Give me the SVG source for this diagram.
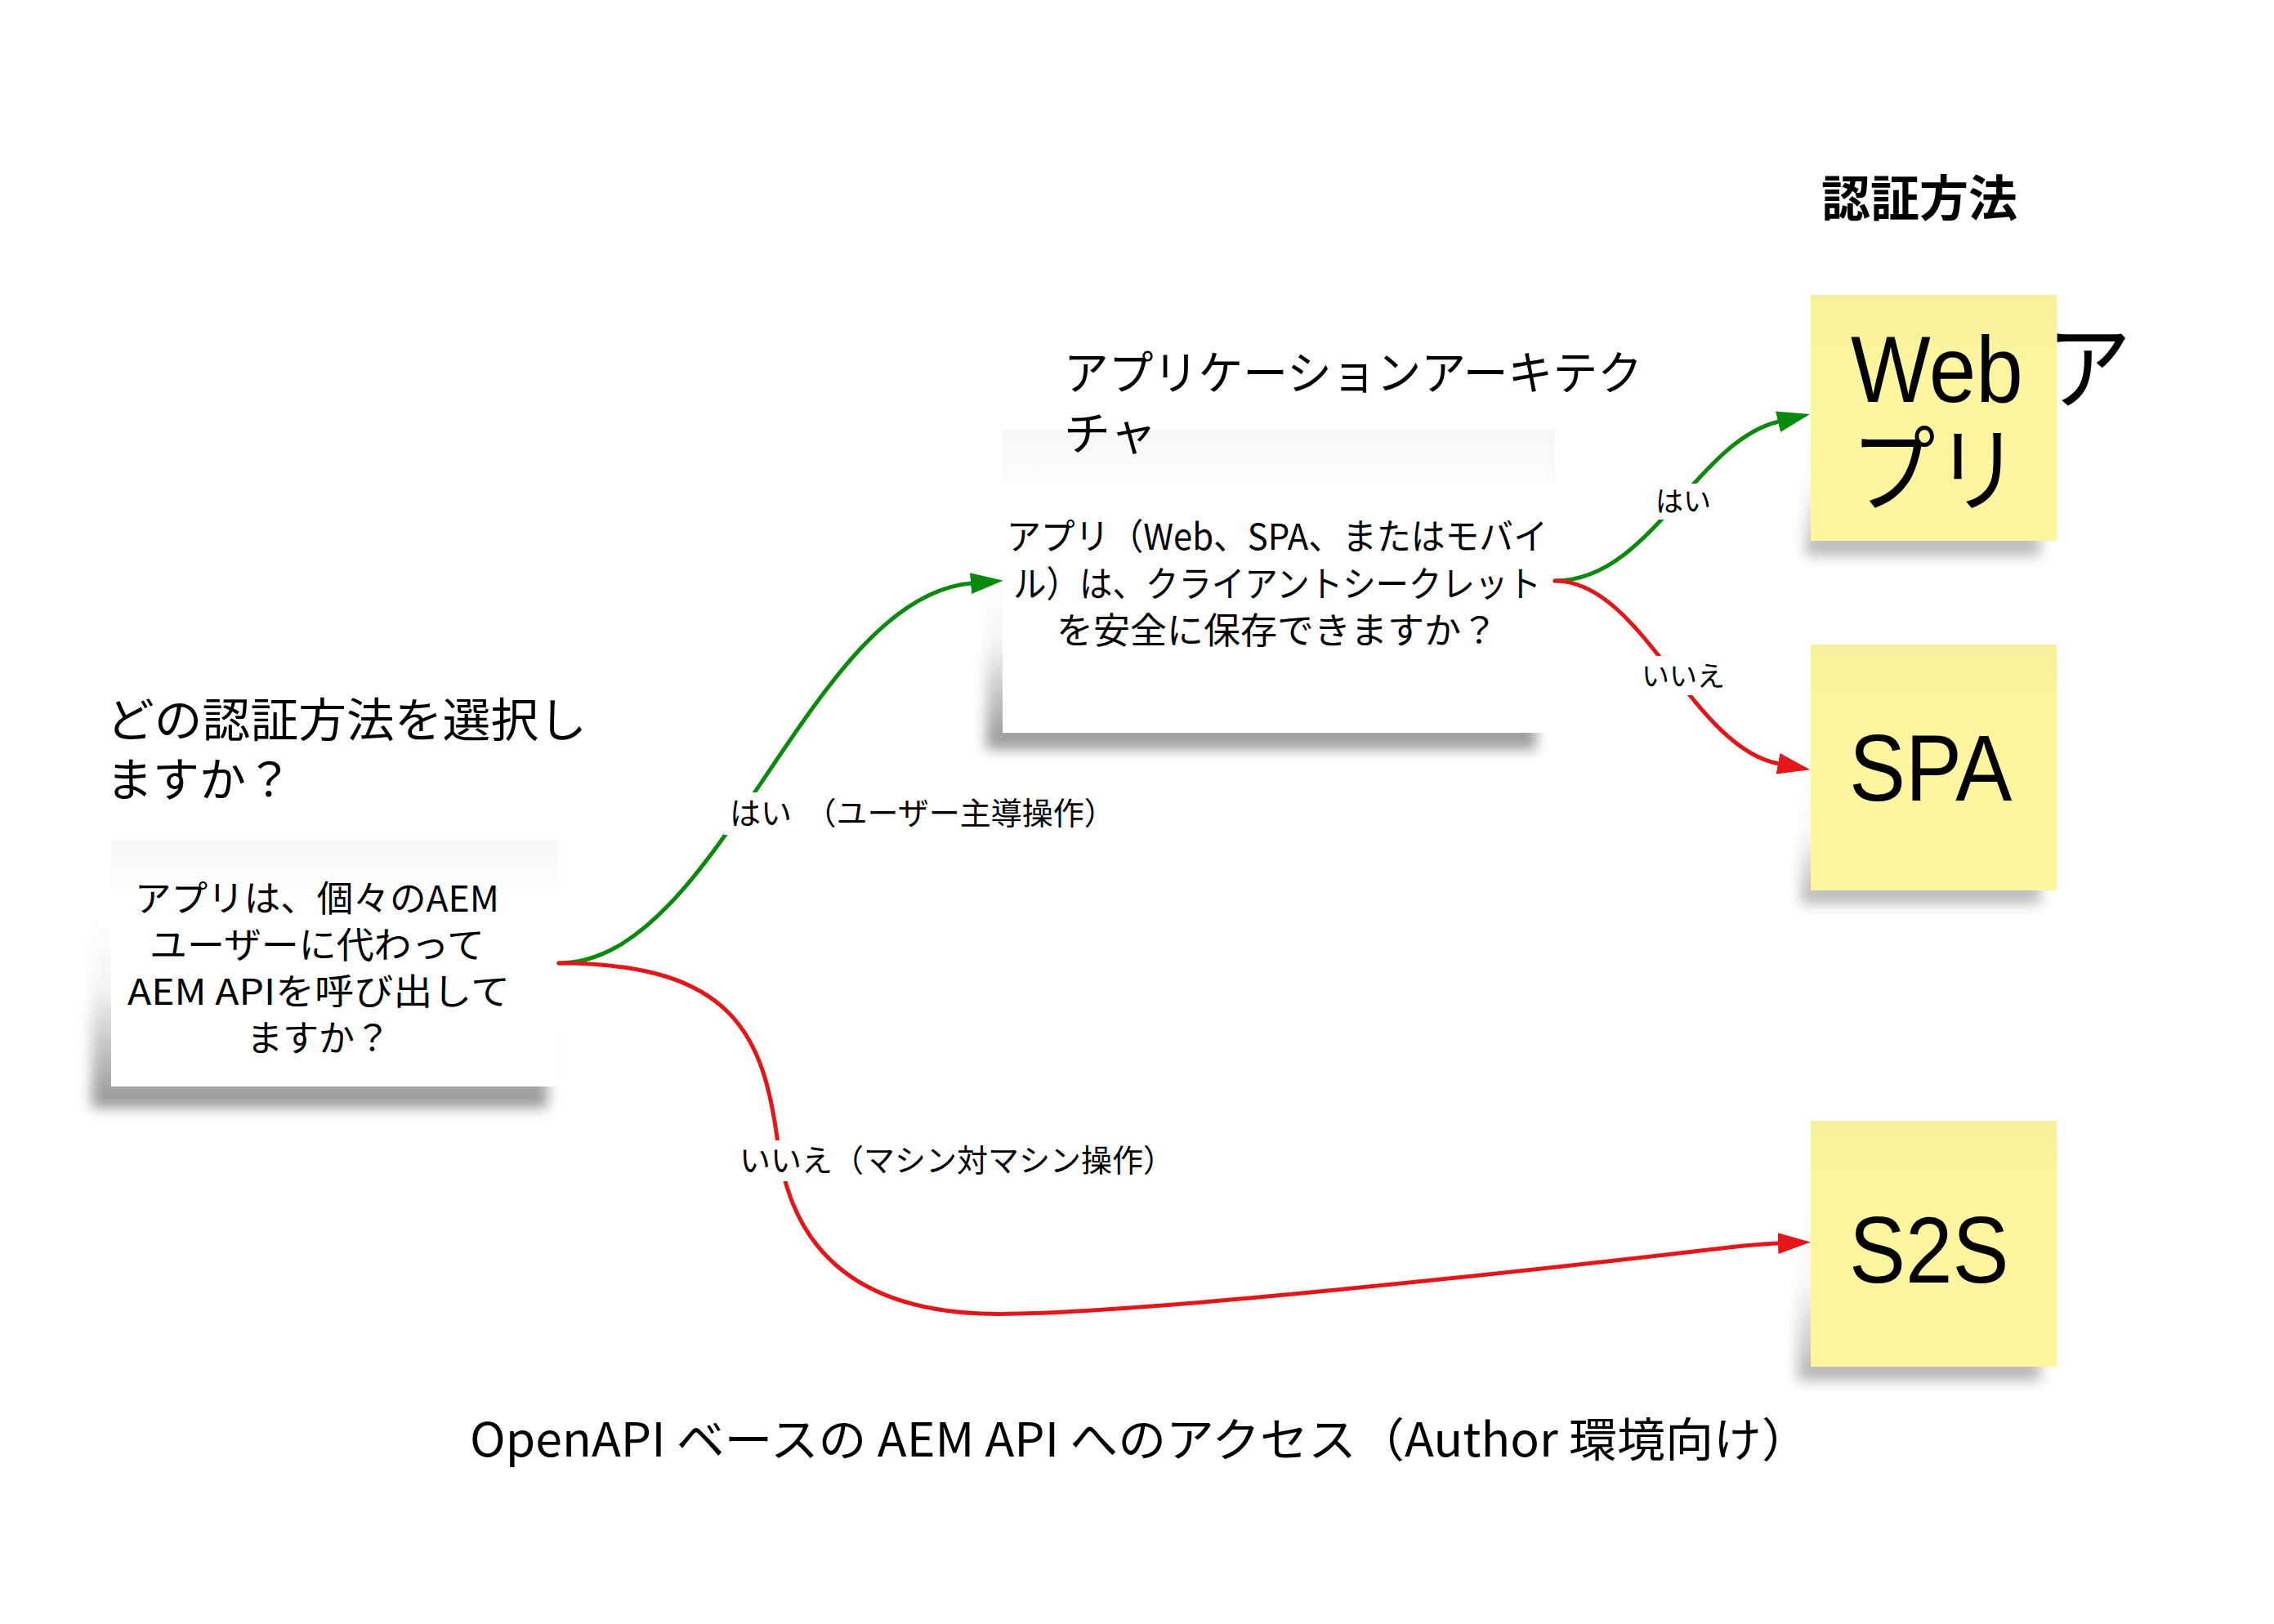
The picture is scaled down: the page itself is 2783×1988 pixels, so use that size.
<svg xmlns="http://www.w3.org/2000/svg" width="2783" height="1988" viewBox="0 0 2783 1988">
  <defs>
    <style>
      .jp { font-family: "Noto Sans CJK JP", sans-serif; fill: #000; }
      .head { font-size: 57px; }
      .q { font-size: 44px; }
      .lbl { font-size: 38px; }
      .note { font-family: "Liberation Sans", "Noto Sans CJK JP", sans-serif; font-size: 115px; fill: #000; }
      .wbox { fill: url(#whiteGrad); }
      .ybox { fill: url(#yellowGrad); }
      .shadow { fill: url(#shadowGrad); filter: url(#blur); }
      .yshadow { fill: url(#yShadowGrad); filter: url(#blur); }
      .yes { fill: none; stroke: #0a8a0c; stroke-width: 5; stroke-linecap: round; }
      .no { fill: none; stroke: #e51619; stroke-width: 5; stroke-linecap: round; }
      .bg { fill: #fff; }
    </style>
    <linearGradient id="whiteGrad" x1="0" y1="0" x2="0" y2="1">
      <stop offset="0" stop-color="#f7f7f7"/>
      <stop offset="0.16" stop-color="#fbfbfb"/>
      <stop offset="0.22" stop-color="#ffffff"/>
    </linearGradient>
    <linearGradient id="yellowGrad" x1="0" y1="0" x2="0" y2="1">
      <stop offset="0" stop-color="#f8ef9c"/>
      <stop offset="0.3" stop-color="#fef5a0"/>
      <stop offset="1" stop-color="#fef5a0"/>
    </linearGradient>
    <linearGradient id="shadowGrad" x1="0" y1="0" x2="0" y2="1">
      <stop offset="0" stop-color="#000" stop-opacity="0"/>
      <stop offset="0.4" stop-color="#000" stop-opacity="0.04"/>
      <stop offset="1" stop-color="#000" stop-opacity="0.42"/>
    </linearGradient>
    <linearGradient id="yShadowGrad" x1="0" y1="0" x2="0" y2="1">
      <stop offset="0" stop-color="#000" stop-opacity="0"/>
      <stop offset="0.5" stop-color="#000" stop-opacity="0.03"/>
      <stop offset="1" stop-color="#000" stop-opacity="0.3"/>
    </linearGradient>
    <filter id="blur" x="-20%" y="-20%" width="140%" height="140%">
      <feGaussianBlur stdDeviation="8"/>
    </filter>
    <marker id="arrGreen" markerUnits="userSpaceOnUse" markerWidth="40" markerHeight="26" viewBox="0 0 40 26" refX="1" refY="13" orient="auto">
      <path d="M0,0 L40,13 L0,26 z" fill="#0a8a0c"/>
    </marker>
    <marker id="arrRed" markerUnits="userSpaceOnUse" markerWidth="40" markerHeight="26" viewBox="0 0 40 26" refX="1" refY="13" orient="auto">
      <path d="M0,0 L40,13 L0,26 z" fill="#e51619"/>
    </marker>
  </defs>

  <rect width="2783" height="1988" fill="#fff"/>

  <!-- Decision 1 -->
  <g id="node-q1">
    <rect class="shadow" x="112" y="1110" width="558" height="246"/>
    <rect class="wbox" x="136" y="1029" width="547" height="301"/>
    <text class="jp q" text-anchor="middle" x="388" y="1116" textLength="446" lengthAdjust="spacingAndGlyphs">アプリは、個々のAEM</text>
    <text class="jp q" text-anchor="middle" x="388" y="1173" textLength="410" lengthAdjust="spacingAndGlyphs">ユーザーに代わって</text>
    <text class="jp q" text-anchor="middle" x="390" y="1230" textLength="468" lengthAdjust="spacingAndGlyphs">AEM APIを呼び出して</text>
    <text class="jp q" text-anchor="middle" x="390" y="1287">ますか？</text>
  </g>

  <!-- Decision 2 -->
  <g id="node-q2">
    <rect class="shadow" x="1207" y="700" width="673" height="217"/>
    <rect class="wbox" x="1227" y="526" width="676" height="371"/>
    <text class="jp q" text-anchor="middle" x="1563" y="673" textLength="662" lengthAdjust="spacingAndGlyphs">アプリ（Web、SPA、またはモバイ</text>
    <text class="jp q" text-anchor="middle" x="1563" y="731" textLength="646" lengthAdjust="spacingAndGlyphs">ル）は、クライアントシークレット</text>
    <text class="jp q" text-anchor="middle" x="1563" y="788" textLength="540" lengthAdjust="spacingAndGlyphs">を安全に保存できますか？</text>
  </g>

  <!-- Result notes -->
  <g id="node-webapp">
    <rect class="yshadow" x="2210" y="520" width="287" height="160"/>
    <rect class="ybox" x="2216" y="361" width="301" height="301"/>
    <text class="note" transform="translate(2265,492) scale(0.9,1)">Web ア</text>
    <text class="note" transform="translate(2265,617) scale(0.9,1)">プリ</text>
  </g>
  <g id="node-spa">
    <rect class="yshadow" x="2204" y="940" width="293" height="166"/>
    <rect class="ybox" x="2216" y="789" width="301" height="301"/>
    <text class="note" transform="translate(2263,980) scale(0.9,1)">SPA</text>
  </g>
  <g id="node-s2s">
    <rect class="yshadow" x="2200" y="1460" width="297" height="230"/>
    <rect class="ybox" x="2216" y="1372" width="301" height="301"/>
    <text class="note" transform="translate(2263,1570) scale(0.9,1)">S2S</text>
  </g>

  <!-- Headings (drawn above the boxes) -->
  <g id="heading-question">
    <text class="jp head" x="130" y="902" font-size="58" textLength="588" lengthAdjust="spacingAndGlyphs">どの認証方法を選択し</text>
    <text class="jp head" x="130" y="975" font-size="58">ますか？</text>
  </g>
  <g id="heading-architecture">
    <text class="jp head" x="1302" y="477" textLength="708" lengthAdjust="spacingAndGlyphs">アプリケーションアーキテク</text>
    <text class="jp head" x="1302" y="551">チャ</text>
  </g>
  <g id="heading-auth">
    <text class="jp" x="2229" y="265" font-size="60" font-weight="bold">認証方法</text>
  </g>

  <!-- Connectors -->
  <g id="connectors">
    <path class="yes" d="M684,1179 C880,1179 990,730 1189,714" marker-end="url(#arrGreen)"/>
    <path class="no" d="M684,1179 C900,1179 935,1270 952,1400 C963,1490 1010,1600 1200,1608 C1350,1614 1900,1552 2090,1530 C2130,1525 2150,1523 2177,1522" marker-end="url(#arrRed)"/>
    <path class="yes" d="M1903,711 C2020,711 2075,540 2177,516" marker-end="url(#arrGreen)"/>
    <path class="no" d="M1903,711 C2010,711 2070,915 2177,935" marker-end="url(#arrRed)"/>

    <g id="label-q1-yes">
      <rect class="bg" x="886" y="970" width="470" height="52"/>
      <text class="jp lbl" x="893" y="1009" xml:space="preserve">はい <tspan dx="8">（ユーザー主導操作）</tspan></text>
    </g>
    <g id="label-q1-no">
      <rect class="bg" x="898" y="1396" width="520" height="50"/>
      <text class="jp lbl" x="905" y="1434">いいえ（マシン対マシン操作）</text>
    </g>
    <g id="label-q2-yes">
      <rect class="bg" x="2020" y="592" width="80" height="44"/>
      <text class="jp" text-anchor="middle" x="2060" y="626" font-size="34">はい</text>
    </g>
    <g id="label-q2-no">
      <rect class="bg" x="2003" y="803" width="114" height="48"/>
      <text class="jp" text-anchor="middle" x="2060" y="840" font-size="34">いいえ</text>
    </g>
  </g>

  <!-- Footer title -->
  <g id="footer">
    <text class="jp" x="575" y="1783" font-size="57" textLength="1640" lengthAdjust="spacingAndGlyphs">OpenAPI ベースの AEM API へのアクセス（Author 環境向け）</text>
  </g>
</svg>
